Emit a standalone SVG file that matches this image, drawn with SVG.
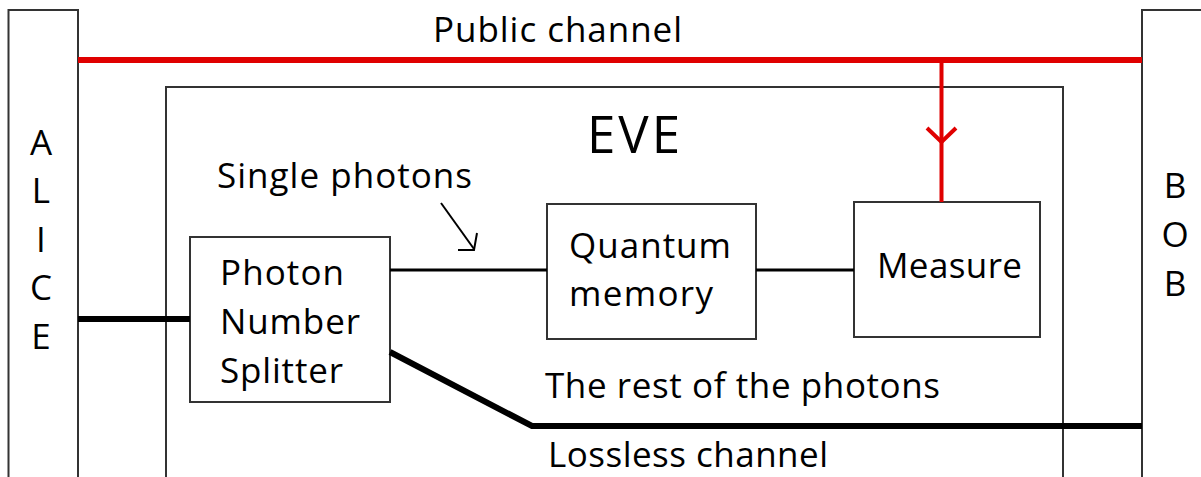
<svg xmlns="http://www.w3.org/2000/svg" width="1201" height="477" viewBox="0 0 1201 477">
<style>
.box{fill:#fff;stroke:#333;stroke-width:2}
.t{font-family:"Open Sans","Liberation Sans",sans-serif;font-size:35px;fill:#000}
.big{font-family:"Open Sans","Liberation Sans",sans-serif;font-size:51px;fill:#000}
.red{stroke:#e00000;fill:none}
.blk{stroke:#000;fill:none}
</style>
<rect width="1201" height="477" fill="#fff"/>
<g id="alice">
<rect class="box" x="8.5" y="10" width="69.5" height="480"/>
<text class="t" text-anchor="middle" x="41" y="155">A</text>
<text class="t" text-anchor="middle" x="41" y="203">L</text>
<text class="t" text-anchor="middle" x="41" y="252">I</text>
<text class="t" text-anchor="middle" x="41" y="300">C</text>
<text class="t" text-anchor="middle" x="41" y="349">E</text>
</g>
<g id="bob">
<rect class="box" x="1142" y="10" width="80" height="480"/>
<text class="t" text-anchor="middle" x="1175" y="198">B</text>
<text class="t" text-anchor="middle" x="1175" y="247">O</text>
<text class="t" text-anchor="middle" x="1175" y="296">B</text>
</g>
<g id="eve">
<rect class="box" x="166" y="87" width="897" height="420"/>
<text class="big" x="587" y="153" textLength="93">EVE</text>
</g>
<g id="splitter">
<rect class="box" x="190" y="237" width="200" height="165"/>
<text class="t" x="220" y="285" textLength="124">Photon</text>
<text class="t" x="220" y="334" textLength="140">Number</text>
<text class="t" x="220" y="383" textLength="123">Splitter</text>
</g>
<g id="memory">
<rect class="box" x="547" y="204" width="209" height="135"/>
<text class="t" x="569" y="258" textLength="162">Quantum</text>
<text class="t" x="569" y="306" textLength="144">memory</text>
</g>
<g id="measure">
<rect class="box" x="854" y="202" width="186" height="135"/>
<text class="t" x="877" y="278" textLength="145">Measure</text>
</g>
<g id="connectors">
<line class="red" x1="78" y1="60" x2="1142" y2="60" stroke-width="6"/>
<line class="red" x1="941.5" y1="60" x2="941.5" y2="202" stroke-width="4"/>
<polyline class="red" points="927,128 941.5,142 956,128" stroke-width="4"/>
<line class="blk" x1="78" y1="319" x2="190" y2="319" stroke-width="6"/>
<line class="blk" x1="390" y1="270" x2="547" y2="270" stroke-width="3"/>
<line class="blk" x1="756" y1="270" x2="854" y2="270" stroke-width="3"/>
<polyline class="blk" points="390,352 532,426 1142,426" stroke-width="6"/>
<line class="blk" x1="441" y1="203" x2="474" y2="249" stroke-width="2"/>
<polyline class="blk" points="458,250 474,250 477,233" stroke-width="2"/>
</g>
<g id="labels">
<text class="t" x="433" y="42" textLength="249">Public channel</text>
<text class="t" x="217" y="188" textLength="255">Single photons</text>
<text class="t" x="545" y="398" textLength="395">The rest of the photons</text>
<text class="t" x="548" y="467" textLength="280">Lossless channel</text>
</g>
</svg>
